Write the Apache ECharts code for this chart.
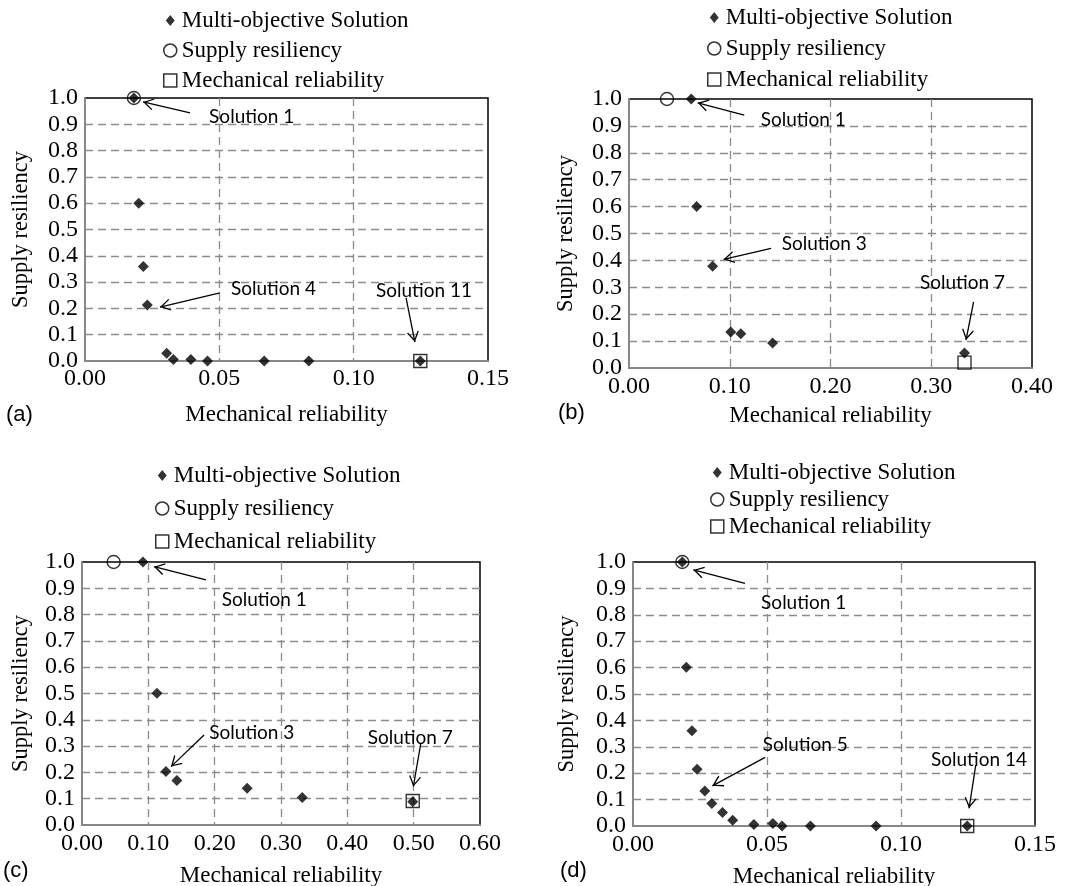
<!DOCTYPE html>
<html>
<head>
<meta charset="utf-8">
<script src="https://cdn.jsdelivr.net/npm/echarts@6/dist/echarts.min.js"></script>
<style>
  html, body { margin: 0; background: #fff; }
  #chart { width: 1070px; height: 886px; }
</style>
</head>
<body>
<div id="chart"></div>
<script>
// points: [mechanical reliability, supply resiliency]
var multiA = [[0.0182, 1.0], [0.0200, 0.600], [0.0217, 0.359], [0.0232, 0.213], [0.0304, 0.029], [0.0329, 0.006],
  [0.0394, 0.006], [0.0456, 0], [0.0667, 0], [0.0833, 0], [0.1248, 0]];
var supplyA = [[0.0182, 1.0]];
var mechA = [[0.1248, 0]];

var multiB = [[0.0618, 1.0], [0.0671, 0.600], [0.0830, 0.378], [0.1010, 0.134], [0.1110, 0.127], [0.1425, 0.093], [0.3330, 0.056]];
var supplyB = [[0.0377, 1.0]];
var mechB = [[0.3330, 0.020]];

var multiC = [[0.0919, 1.0], [0.1130, 0.501], [0.1265, 0.203], [0.1430, 0.169], [0.2490, 0.140], [0.3320, 0.105], [0.4986, 0.088]];
var supplyC = [[0.0477, 1.0]];
var mechC = [[0.4986, 0.091]];

var multiD = [[0.0184, 1.0], [0.0199, 0.601], [0.0220, 0.361], [0.0239, 0.215], [0.0268, 0.133], [0.0294, 0.085], [0.0334, 0.051],
  [0.0372, 0.022], [0.0451, 0.006], [0.0522, 0.009], [0.0556, 0], [0.0662, 0], [0.0907, 0], [0.1247, 0]];
var supplyD = [[0.0184, 1.0]];
var mechD = [[0.1247, 0]];

// callouts, in data units: text anchor (left-middle), arrow tail, arrow tip
var notesA = [
  {text: 'Solution 1', at: [0.0462, 0.928], from: [0.0391, 0.943], to: [0.0216, 0.985]},
  {text: 'Solution 4', at: [0.0543, 0.274], from: [0.0502, 0.259], to: [0.0279, 0.205]},
  {text: 'Solution 11', at: [0.1083, 0.266], from: [0.1195, 0.240], to: [0.1228, 0.072]}
];
var notesB = [
  {text: 'Solution 1', at: [0.1307, 0.922], from: [0.1144, 0.940], to: [0.0682, 0.986]},
  {text: 'Solution 3', at: [0.1516, 0.461], from: [0.1410, 0.445], to: [0.0940, 0.404]},
  {text: 'Solution 7', at: [0.2888, 0.315], from: [0.3420, 0.246], to: [0.3345, 0.104]}
];
var notesC = [
  {text: 'Solution 1', at: [0.2106, 0.856], from: [0.1869, 0.932], to: [0.1085, 0.982]},
  {text: 'Solution 3', at: [0.1919, 0.352], from: [0.1840, 0.342], to: [0.1342, 0.222]},
  {text: 'Solution 7', at: [0.4307, 0.332], from: [0.5106, 0.308], to: [0.4995, 0.146]}
];
var notesD = [
  {text: 'Solution 1', at: [0.0478, 0.844], from: [0.0418, 0.919], to: [0.0225, 0.970]},
  {text: 'Solution 5', at: [0.0484, 0.307], from: [0.0493, 0.260], to: [0.0296, 0.152]},
  {text: 'Solution 14', at: [0.1112, 0.250], from: [0.1279, 0.231], to: [0.1254, 0.067]}
];

var SERIF = 'Liberation Serif';
// open arrow head, tip at the centre of its box so it lands on the end point
var ARROW = 'path://M6,-10.67 L6,-10.67 M6,0 L12,10 L10.89,10.67 L6,2.5 L1.11,10.67 L0,10 Z';
var DIAMOND_ICON = 'path://M0,0 L0,0 M13,13 L13,13 M6.5,1 L11,6.5 L6.5,12 L2,6.5 Z';

var panels = [
  {tag: '(a)', multi: multiA, supply: supplyA, mech: mechA, notes: notesA, xMax: 0.15, xStep: 0.05,
    grid: {left: 85, top: 98, width: 403, height: 263}, legend: {left: 163, top: 9, gap: 7},
    yGap: 52, xGap: 42, xMargin: 6, tagPos: [6, 404]},
  {tag: '(b)', multi: multiB, supply: supplyB, mech: mechB, notes: notesB, xMax: 0.40, xStep: 0.1,
    grid: {left: 629, top: 99, width: 403, height: 269}, legend: {left: 707, top: 6, gap: 8},
    yGap: 51, xGap: 36, xMargin: 7, tagPos: [558, 402]},
  {tag: '(c)', multi: multiC, supply: supplyC, mech: mechC, notes: notesC, xMax: 0.60, xStep: 0.1,
    grid: {left: 82, top: 562, width: 398, height: 263}, legend: {left: 155, top: 464, gap: 10},
    yGap: 49, xGap: 39, xMargin: 7, tagPos: [3, 860]},
  {tag: '(d)', multi: multiD, supply: supplyD, mech: mechD, notes: notesD, xMax: 0.15, xStep: 0.05,
    grid: {left: 633, top: 562, width: 402, height: 264}, legend: {left: 710, top: 461, gap: 4},
    yGap: 54, xGap: 39, xMargin: 7, tagPos: [560, 860]}
];

var chart = echarts.init(document.getElementById('chart'));

var option = {
  animation: false,
  backgroundColor: '#fff',
  grid: [], xAxis: [], yAxis: [], legend: [], series: [], graphic: []
};

panels.forEach(function (p, i) {
  option.grid.push({
    left: p.grid.left, top: p.grid.top, width: p.grid.width, height: p.grid.height,
    show: true, borderColor: '#000', borderWidth: 1.5, backgroundColor: 'transparent',
    outerBoundsMode: 'none'
  });
  option.xAxis.push({
    gridIndex: i, type: 'value', min: 0, max: p.xMax, interval: p.xStep,
    name: 'Mechanical reliability', nameLocation: 'middle', nameGap: p.xGap, nameMoveOverlap: false,
    nameTextStyle: {fontFamily: SERIF, fontSize: 23, color: '#000'},
    axisLine: {show: true, onZero: false, lineStyle: {color: '#878787', width: 2}},
    axisTick: {show: false},
    axisLabel: {margin: p.xMargin, fontFamily: SERIF, fontSize: 24, color: '#000',
      formatter: function (v) { return v.toFixed(2); }},
    splitLine: {show: true, showMinLine: false, showMaxLine: false,
      lineStyle: {color: '#8c8c8c', type: [8, 5], width: 1.3}}
  });
  option.yAxis.push({
    gridIndex: i, type: 'value', min: 0, max: 1, interval: 0.1,
    name: 'Supply resiliency', nameLocation: 'middle', nameGap: p.yGap, nameMoveOverlap: false,
    nameTextStyle: {fontFamily: SERIF, fontSize: 22.5, color: '#000'},
    axisLine: {show: true, onZero: false, lineStyle: {color: '#878787', width: 2}},
    axisTick: {show: false},
    axisLabel: {margin: 7, fontFamily: SERIF, fontSize: 24, color: '#000',
      formatter: function (v) { return v.toFixed(1); }},
    splitLine: {show: true, showMinLine: false, showMaxLine: false,
      lineStyle: {color: '#8c8c8c', type: [8, 5], width: 1.3}}
  });
  option.legend.push({
    orient: 'vertical', left: p.legend.left, top: p.legend.top, padding: 0, itemGap: p.legend.gap,
    itemWidth: 13, itemHeight: 13, selectedMode: false,
    textStyle: {fontFamily: SERIF, fontSize: 23, color: '#000', lineHeight: 23},
    data: [
      {name: 'Multi-objective Solution', icon: DIAMOND_ICON, itemStyle: {color: '#000', borderWidth: 0}},
      {name: 'Supply resiliency', icon: 'circle', itemStyle: {color: '#fff', borderColor: '#000', borderWidth: 1.5}},
      {name: 'Mechanical reliability', icon: 'rect', itemStyle: {color: '#fff', borderColor: '#000', borderWidth: 1.5}}
    ]
  });
  option.series.push({
    type: 'scatter', name: 'Supply resiliency', xAxisIndex: i, yAxisIndex: i, data: p.supply,
    symbol: 'circle', symbolSize: 13, clip: false, silent: true, z: 2,
    itemStyle: {color: 'rgba(0,0,0,0)', borderColor: '#000', borderWidth: 1.4}
  });
  option.series.push({
    type: 'scatter', name: 'Mechanical reliability', xAxisIndex: i, yAxisIndex: i, data: p.mech,
    symbol: 'rect', symbolSize: 13, clip: false, silent: true, z: 2,
    itemStyle: {color: 'rgba(0,0,0,0)', borderColor: '#000', borderWidth: 1.4}
  });
  option.series.push({
    type: 'scatter', name: 'Multi-objective Solution', xAxisIndex: i, yAxisIndex: i, data: p.multi,
    symbol: 'diamond', symbolSize: 11, clip: false, silent: true, z: 4,
    itemStyle: {color: '#000'},
    markLine: {
      silent: true, animation: false,
      symbol: ['none', ARROW], symbolSize: [12, 21.34],
      lineStyle: {color: '#000', width: 1.3, type: 'solid'},
      label: {show: false},
      emphasis: {disabled: true},
      data: p.notes.map(function (n) { return [{coord: n.from}, {coord: n.to}]; })
    },
    markPoint: {
      silent: true, animation: false,
      symbol: 'circle', symbolSize: 0, itemStyle: {color: 'rgba(0,0,0,0)'},
      label: {show: true, position: 'right', distance: 0, fontFamily: 'Lato', fontSize: 19, color: '#000',
        formatter: function (d) { return d.name; }},
      data: p.notes.map(function (n) { return {name: n.text, coord: n.at}; })
    }
  });
  option.graphic.push({
    type: 'text', left: p.tagPos[0], top: p.tagPos[1], silent: true,
    style: {text: p.tag, fontFamily: 'Liberation Sans', fontSize: 22, fill: '#000'}
  });
});

chart.setOption(option);
</script>
</body>
</html>
